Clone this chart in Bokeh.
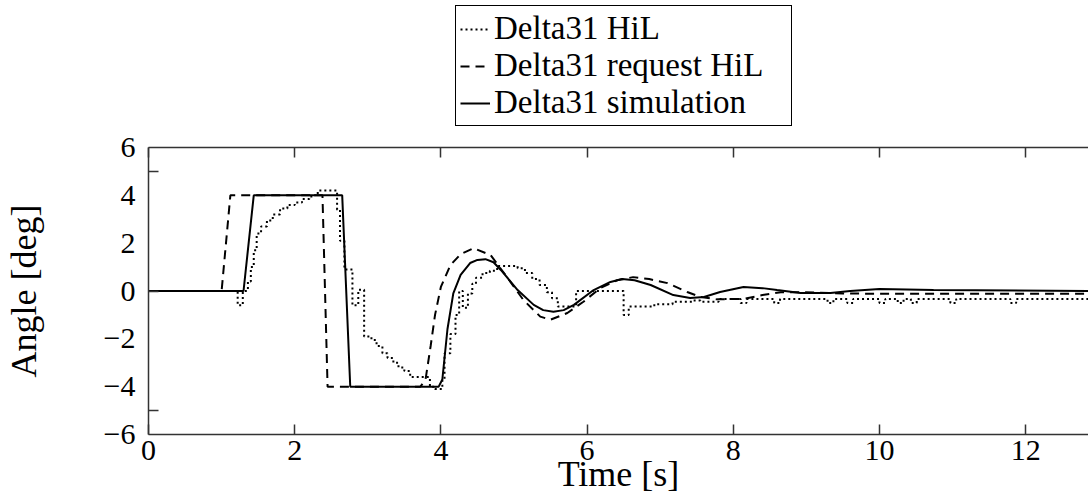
from bokeh.plotting import figure
from bokeh.layouts import column
from bokeh.models import (Range1d, FixedTicker, LinearAxis, Legend, LegendItem)
from bokeh.embed import file_html
from bokeh.resources import INLINE

# ---------------- data ----------------
hil_t = [0, 1.22, 1.29, 1.36, 1.40, 1.44, 1.48, 1.54, 1.62, 1.70, 1.80, 1.90, 2.00, 2.10,
         2.20, 2.28, 2.33, 2.58, 2.62, 2.68, 2.79, 2.87, 2.95, 3.05, 3.12, 3.20, 3.27, 3.35,
         3.42, 3.50, 3.58, 3.85, 3.92, 4.02, 4.05, 4.13, 4.20, 4.25, 4.30, 4.37, 4.43, 4.48,
         4.57, 4.67, 4.77, 5.05, 5.15, 5.25, 5.35, 5.45, 5.52, 5.60, 5.85, 6.50, 6.57, 6.92,
         7.17, 7.45, 7.55, 7.80, 8.10, 8.18, 8.56, 8.64, 9.29, 9.37, 9.56, 9.64, 10.00, 10.08,
         10.25, 10.33, 10.43, 10.51, 10.97, 11.05, 11.79, 11.87, 12.90]
hil_y = [0, -0.6, 0.0, 0.4, 1.0, 1.7, 2.4, 2.7, 2.95, 3.2, 3.45, 3.6, 3.7, 3.85,
         3.95, 4.1, 4.2, 3.4, 2.1, 0.9, -0.6, 0.05, -1.9, -2.05, -2.3, -2.6, -2.8, -3.0,
         -3.2, -3.35, -3.6, -4.0, -4.1, -3.7, -2.6, -1.8, -1.0, 0.0, -0.7, -0.1, 0.3, 0.55,
         0.75, 0.85, 1.05, 0.95, 0.75, 0.5, 0.25, -0.05, -0.3, -0.65, 0.0, -1.0, -0.65, -0.55,
         -0.45, -0.4, -0.45, -0.33, -0.5, -0.33, -0.5, -0.33, -0.5, -0.33, -0.5, -0.33, -0.5, -0.33,
         -0.5, -0.33, -0.5, -0.33, -0.5, -0.33, -0.5, -0.33, -0.33]

req_t = [0, 1.0, 1.12, 2.38, 2.45, 3.72, 3.79, 3.86, 3.92, 4.0, 4.13, 4.27, 4.45, 4.68,
         4.9, 5.13, 5.36, 5.5, 5.73, 5.95, 6.18, 6.41, 6.63, 6.85, 7.1, 7.37, 7.55, 7.78,
         8.14, 8.4, 8.65, 8.9, 9.5, 10.0, 12.9]
req_y = [0, 0, 4, 4, -4, -4, -3.7, -2.3, -1.0, 0.17, 1.08, 1.54, 1.79, 1.5,
         0.6, -0.38, -1.07, -1.2, -0.92, -0.45, 0.12, 0.45, 0.58, 0.5, 0.33, -0.04, -0.25, -0.35,
         -0.33, -0.17, -0.05, -0.05, -0.1, -0.12, -0.12]

sim_t = [0, 1.3, 1.44, 2.65, 2.76, 3.97, 4.02, 4.09, 4.17, 4.27, 4.4, 4.5, 4.61, 4.72,
         4.82, 5.05, 5.27, 5.4, 5.54, 5.68, 5.82, 6.09, 6.32, 6.48, 6.65, 6.87, 7.18, 7.41,
         7.6, 7.82, 8.14, 8.4, 8.6, 8.92, 9.33, 9.6, 10.0, 10.74, 12.9]
sim_y = [0, 0, 4, 4, -4, -4, -3.7, -1.6, -0.1, 0.67, 1.17, 1.3, 1.33, 1.2,
         0.88, 0.04, -0.58, -0.8, -0.87, -0.8, -0.58, 0.04, 0.38, 0.5, 0.45, 0.25, -0.17, -0.29,
         -0.25, -0.04, 0.17, 0.12, 0.04, -0.08, -0.08, 0.0, 0.08, 0.04, 0.0]

x_ticks = [0, 2, 4, 6, 8, 10, 12]
y_ticks = [-6, -4, -2, 0, 2, 4, 6]
y_minor = [-5, 0, 5]
labels = ["Delta31 HiL", "Delta31 request HiL", "Delta31 simulation"]

FONT = "Liberation Serif"
AX = "#333333"

HIL_STYLE = dict(line_color="black", line_width=2, line_dash="2 3")
REQ_STYLE = dict(line_color="black", line_width=2, line_dash="9 6")
SIM_STYLE = dict(line_color="black", line_width=2)

# ---------------- main plot ----------------
p = figure(width=1088, height=370, output_backend="svg", toolbar_location=None,
           x_range=Range1d(0, 12.86), y_range=Range1d(-6, 6),
           min_border_left=148, min_border_right=0, min_border_top=20, min_border_bottom=63,
           background_fill_color="white", border_fill_color="white")
p.outline_line_color = None
p.grid.visible = False

p.step(hil_t, hil_y, mode="after", **HIL_STYLE)
p.line(req_t, req_y, **REQ_STYLE)
p.line(sim_t, sim_y, **SIM_STYLE)

# x axis
xa = p.xaxis[0]
xa.ticker = FixedTicker(ticks=x_ticks)
xa.axis_label = "Time [s]"
xa.axis_label_text_font = FONT
xa.axis_label_text_font_size = "36px"
xa.axis_label_text_font_style = "normal"
xa.axis_label_text_color = "black"
xa.axis_label_standoff = -9
xa.major_label_text_font = FONT
xa.major_label_text_font_size = "30px"
xa.major_label_text_color = "black"
xa.major_label_standoff = 6
xa.major_tick_in = 10
xa.major_tick_out = 0
xa.minor_tick_in = 0
xa.minor_tick_out = 0
xa.axis_line_color = AX
xa.axis_line_width = 1.5
xa.major_tick_line_color = AX
xa.major_tick_line_width = 1.5

# y axis
ya = p.yaxis[0]
ya.ticker = FixedTicker(ticks=y_ticks, minor_ticks=y_minor)
ya.major_label_overrides = {-6: "\u22126", -4: "\u22124", -2: "\u22122"}
ya.axis_label = "Angle [deg]"
ya.axis_label_text_font = FONT
ya.axis_label_text_font_size = "36px"
ya.axis_label_text_font_style = "normal"
ya.axis_label_text_color = "black"
ya.axis_label_standoff = 57
ya.major_label_text_font = FONT
ya.major_label_text_font_size = "30px"
ya.major_label_text_color = "black"
ya.major_label_standoff = 13
ya.major_tick_in = 0
ya.major_tick_out = 0
ya.minor_tick_in = 10
ya.minor_tick_out = 0
ya.minor_tick_line_color = AX
ya.minor_tick_line_width = 1.5
ya.axis_line_color = AX
ya.axis_line_width = 1.5

# top axis: tick marks only (drawn as minor ticks, no labels)
ta = LinearAxis(ticker=FixedTicker(ticks=[], minor_ticks=x_ticks),
                major_tick_in=0, major_tick_out=0,
                minor_tick_in=10, minor_tick_out=0,
                axis_line_color=AX, axis_line_width=1.5,
                minor_tick_line_color=AX, minor_tick_line_width=1.5)
p.add_layout(ta, "above")

# ---------------- legend strip above the plot ----------------
lg = figure(width=1088, height=127, output_backend="svg", toolbar_location=None,
            x_range=Range1d(100, 101), y_range=Range1d(100, 101),
            min_border=0, background_fill_color="white", border_fill_color="white")
lg.axis.visible = False
lg.grid.visible = False
lg.outline_line_color = None
g_hil = lg.step(hil_t, hil_y, mode="after", **HIL_STYLE)
g_req = lg.line(req_t, req_y, **REQ_STYLE)
g_sim = lg.line(sim_t, sim_y, **SIM_STYLE)

legend = Legend(items=[LegendItem(label=labels[0], renderers=[g_hil]),
                       LegendItem(label=labels[1], renderers=[g_req]),
                       LegendItem(label=labels[2], renderers=[g_sim])],
                location=(307, 1), orientation="vertical",
                label_text_font=FONT, label_text_font_size="33px",
                label_text_color="black",
                label_height=36, label_width=293, glyph_height=36, glyph_width=30,
                label_standoff=4, spacing=0, padding=4, margin=0,
                border_line_color="black", border_line_alpha=1.0, border_line_width=1.5,
                background_fill_color="white", background_fill_alpha=1.0)
lg.add_layout(legend, "center")

layout = column(lg, p, spacing=0)
open("out.html", "w").write(file_html(layout, INLINE))
